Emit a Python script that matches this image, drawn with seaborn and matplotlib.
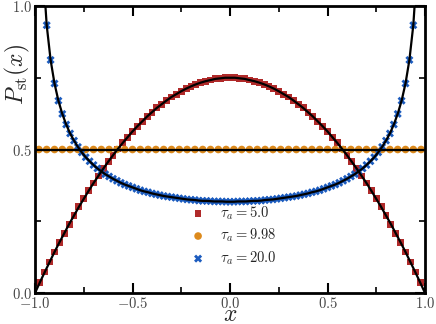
import matplotlib
matplotlib.use('Agg')
import matplotlib.pyplot as plt
import seaborn as sns
from matplotlib.ticker import FixedLocator, FuncFormatter

# tau_a = 5.0 (red squares)
red_x = [-0.975, -0.95, -0.925, -0.9, -0.875, -0.85, -0.825, -0.8, -0.775, -0.75,
         -0.725, -0.7, -0.675, -0.65, -0.625, -0.6, -0.575, -0.55, -0.525, -0.5,
         -0.475, -0.45, -0.425, -0.4, -0.375, -0.35, -0.325, -0.3, -0.275, -0.25,
         -0.225, -0.2, -0.175, -0.15, -0.125, -0.1, -0.075, -0.05, -0.025, 0.0,
         0.025, 0.05, 0.075, 0.1, 0.125, 0.15, 0.175, 0.2, 0.225, 0.25,
         0.275, 0.3, 0.325, 0.35, 0.375, 0.4, 0.425, 0.45, 0.475, 0.5,
         0.525, 0.55, 0.575, 0.6, 0.625, 0.65, 0.675, 0.7, 0.725, 0.75,
         0.775, 0.8, 0.825, 0.85, 0.875, 0.9, 0.925, 0.95, 0.975]
red_y = [0.037, 0.073, 0.108, 0.143, 0.176, 0.208, 0.240, 0.270, 0.300, 0.328,
         0.356, 0.383, 0.408, 0.433, 0.457, 0.480, 0.502, 0.523, 0.543, 0.563,
         0.581, 0.598, 0.615, 0.630, 0.645, 0.658, 0.671, 0.683, 0.693, 0.703,
         0.712, 0.720, 0.727, 0.733, 0.738, 0.742, 0.746, 0.748, 0.750, 0.750,
         0.750, 0.748, 0.746, 0.742, 0.738, 0.733, 0.727, 0.720, 0.712, 0.703,
         0.693, 0.683, 0.671, 0.658, 0.645, 0.630, 0.615, 0.598, 0.581, 0.563,
         0.543, 0.523, 0.502, 0.480, 0.457, 0.433, 0.408, 0.383, 0.356, 0.328,
         0.300, 0.270, 0.240, 0.208, 0.176, 0.143, 0.108, 0.073, 0.037]

# tau_a = 9.98 (orange circles)
orange_x = [-0.98, -0.94, -0.9, -0.86, -0.82, -0.78, -0.74, -0.7, -0.66, -0.62,
            -0.58, -0.54, -0.5, -0.46, -0.42, -0.38, -0.34, -0.3, -0.26, -0.22,
            -0.18, -0.14, -0.1, -0.06, -0.02, 0.02, 0.06, 0.1, 0.14, 0.18,
            0.22, 0.26, 0.3, 0.34, 0.38, 0.42, 0.46, 0.5, 0.54, 0.58,
            0.62, 0.66, 0.7, 0.74, 0.78, 0.82, 0.86, 0.9, 0.94, 0.98]
orange_y = [0.5, 0.5, 0.5, 0.5, 0.5, 0.5, 0.5, 0.5, 0.5, 0.5,
            0.5, 0.5, 0.5, 0.5, 0.5, 0.5, 0.5, 0.5, 0.5, 0.5,
            0.5, 0.5, 0.5, 0.5, 0.5, 0.5, 0.5, 0.5, 0.5, 0.5,
            0.5, 0.5, 0.5, 0.5, 0.5, 0.5, 0.5, 0.5, 0.5, 0.5,
            0.5, 0.5, 0.5, 0.5, 0.5, 0.5, 0.5, 0.5, 0.5, 0.5]

# tau_a = 20.0 (blue crosses)
blue_x = [-0.98, -0.96, -0.94, -0.92, -0.9, -0.88, -0.86, -0.84, -0.82, -0.8,
          -0.78, -0.76, -0.74, -0.72, -0.7, -0.68, -0.66, -0.64, -0.62, -0.6,
          -0.58, -0.56, -0.54, -0.52, -0.5, -0.48, -0.46, -0.44, -0.42, -0.4,
          -0.38, -0.36, -0.34, -0.32, -0.3, -0.28, -0.26, -0.24, -0.22, -0.2,
          -0.18, -0.16, -0.14, -0.12, -0.1, -0.08, -0.06, -0.04, -0.02, 0.0,
          0.02, 0.04, 0.06, 0.08, 0.1, 0.12, 0.14, 0.16, 0.18, 0.2,
          0.22, 0.24, 0.26, 0.28, 0.3, 0.32, 0.34, 0.36, 0.38, 0.4,
          0.42, 0.44, 0.46, 0.48, 0.5, 0.52, 0.54, 0.56, 0.58, 0.6,
          0.62, 0.64, 0.66, 0.68, 0.7, 0.72, 0.74, 0.76, 0.78, 0.8,
          0.82, 0.84, 0.86, 0.88, 0.9, 0.92, 0.94, 0.96, 0.98]
blue_y = [1.600, 1.137, 0.933, 0.812, 0.730, 0.670, 0.624, 0.587, 0.556, 0.531,
          0.509, 0.490, 0.473, 0.459, 0.446, 0.434, 0.424, 0.414, 0.406, 0.398,
          0.391, 0.384, 0.378, 0.373, 0.368, 0.363, 0.358, 0.354, 0.351, 0.347,
          0.344, 0.341, 0.338, 0.336, 0.334, 0.332, 0.330, 0.328, 0.326, 0.325,
          0.324, 0.322, 0.321, 0.321, 0.320, 0.319, 0.319, 0.319, 0.318, 0.318,
          0.318, 0.319, 0.319, 0.319, 0.320, 0.321, 0.321, 0.322, 0.324, 0.325,
          0.326, 0.328, 0.330, 0.332, 0.334, 0.336, 0.338, 0.341, 0.344, 0.347,
          0.351, 0.354, 0.358, 0.363, 0.368, 0.373, 0.378, 0.384, 0.391, 0.398,
          0.406, 0.414, 0.424, 0.434, 0.446, 0.459, 0.473, 0.490, 0.509, 0.531,
          0.556, 0.587, 0.624, 0.670, 0.730, 0.812, 0.933, 1.137, 1.600]

# curve end values (red reaches 0 at the edges, orange stays flat)
edge_x = [-1.0, 1.0]
red_edge_y = [0.0, 0.0]
orange_edge_y = [0.5, 0.5]

labels = [r'$\tau_a = 5.0$', r'$\tau_a = 9.98$', r'$\tau_a = 20.0$']
x_ticks = [-1.0, -0.5, 0.0, 0.5, 1.0]
x_minor = [-0.75, -0.25, 0.25, 0.75]
y_ticks = [0.0, 0.5, 1.0]
y_minor = [0.25, 0.75]

c_red = '#b02a2a'
c_orange = '#dd8a1c'
c_blue = '#1c5cbf'

sns.set_style('ticks')
plt.rcParams['font.family'] = ['DejaVu Serif']
plt.rcParams['mathtext.fontset'] = 'cm'

fig = plt.figure(figsize=(4.36, 3.24), dpi=100)
ax = fig.add_axes([35 / 436, 31 / 324, 390 / 436, 287 / 324])

sns.scatterplot(x=red_x, y=red_y, marker='s', color=c_red, s=24,
                edgecolor='none', ax=ax, label=labels[0], zorder=2)
sns.scatterplot(x=orange_x, y=orange_y, marker='o', color=c_orange, s=30,
                edgecolor='none', ax=ax, label=labels[1], zorder=2)
sns.scatterplot(x=blue_x, y=blue_y, marker='X', color=c_blue, s=34,
                edgecolor='none', ax=ax, label=labels[2], zorder=2)

red_line_x = [edge_x[0]] + red_x + [edge_x[1]]
red_line_y = [red_edge_y[0]] + red_y + [red_edge_y[1]]
orange_line_x = [edge_x[0]] + orange_x + [edge_x[1]]
orange_line_y = [orange_edge_y[0]] + orange_y + [orange_edge_y[1]]

for lx, ly in [(red_line_x, red_line_y), (orange_line_x, orange_line_y), (blue_x, blue_y)]:
    sns.lineplot(x=lx, y=ly, color='black', lw=1.6, sort=False,
                 estimator=None, ax=ax, zorder=3)

ax.set_xlim(-1.0, 1.0)
ax.set_ylim(0.0, 1.0)

ax.xaxis.set_major_locator(FixedLocator(x_ticks))
ax.xaxis.set_minor_locator(FixedLocator(x_minor))
ax.yaxis.set_major_locator(FixedLocator(y_ticks))
ax.yaxis.set_minor_locator(FixedLocator(y_minor))
fmt = FuncFormatter(lambda v, p: f'${v:.1f}$')
ax.xaxis.set_major_formatter(fmt)
ax.yaxis.set_major_formatter(fmt)

ax.tick_params(which='both', direction='in', top=True, right=True, colors='black')
ax.tick_params(which='major', length=7, width=1.5, labelsize=10.5, pad=2)
ax.tick_params(which='minor', length=4, width=1.2)
ax.tick_params(axis='both', which='major', labelcolor='#444444')
for sp in ax.spines.values():
    sp.set_linewidth(2.0)
    sp.set_color('black')
    sp.set_visible(True)

ax.set_xlabel(r'$x$', fontsize=17, labelpad=-5.5)
ax.set_ylabel(r'$P_{\rm st}(x)$', fontsize=17)
ax.yaxis.set_label_coords(-0.008, 0.76)

handles, _ = ax.get_legend_handles_labels()
ax.legend(handles[:3], labels, loc='center', bbox_to_anchor=(0.5, 0.2),
          frameon=False, fontsize=10.5, handletextpad=0.5, labelspacing=0.35,
          borderpad=0.2)

fig.savefig('out.png', dpi=100)
